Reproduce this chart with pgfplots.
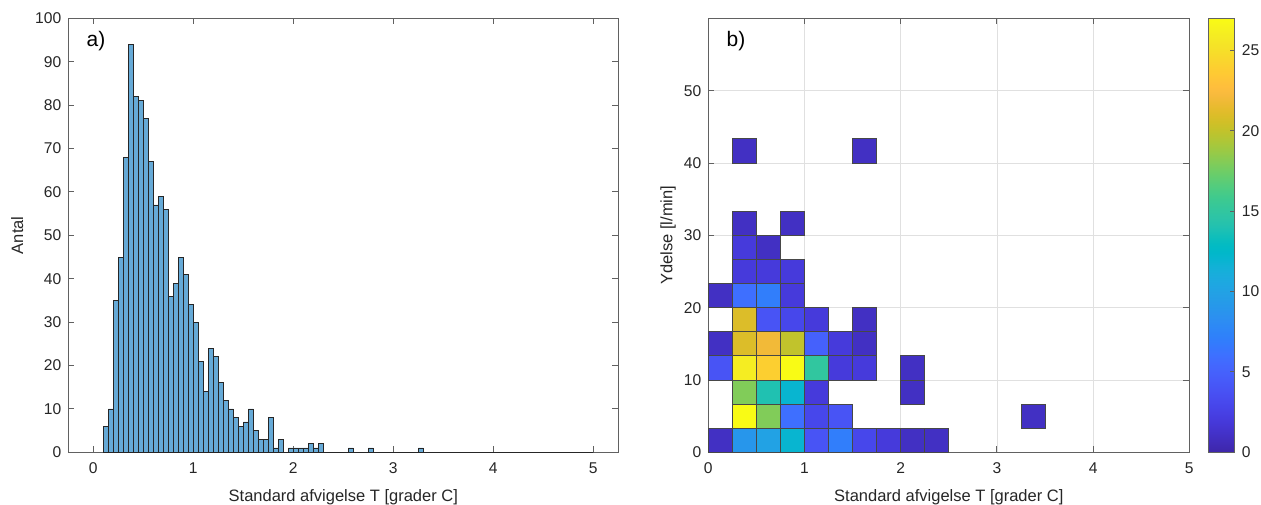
\documentclass[border=0pt]{standalone}
\usepackage{fontspec}
\setmainfont{Liberation Sans}
\usepackage{pgfplots}
\pgfplotsset{compat=1.18}
\usetikzlibrary{calc}
\definecolor{histblue}{RGB}{102,170,215}
\definecolor{axgray}{RGB}{38,38,38}
\pgfplotsset{
 mystyle/.style={
  scale only axis, anchor=south west,
  axis line style={black!62, line width=0.45pt},
  tick style={black!62, line width=0.45pt},
  tick align=inside, major tick length=3pt,
  ticklabel style={font=\fontsize{7.8}{9}\selectfont, text=axgray},
  /pgf/number format/assume math mode=true,
  label style={font=\fontsize{8.25}{10}\selectfont, text=axgray},
  xlabel style={at={(axis description cs:0.5,0)}, anchor=base, yshift=-24.8pt},
  xticklabel style={yshift=-1.5pt},
  xtick={0,1,2,3,4,5},
 },
 colormap={parula}{
  rgb(0pt)=(0.2422,0.1504,0.6603) rgb(1pt)=(0.2504,0.1650,0.7076) rgb(2pt)=(0.2578,0.1818,0.7511) rgb(3pt)=(0.2647,0.1978,0.7952)
  rgb(4pt)=(0.2706,0.2147,0.8364) rgb(5pt)=(0.2751,0.2342,0.8710) rgb(6pt)=(0.2783,0.2559,0.8991) rgb(7pt)=(0.2803,0.2782,0.9221)
  rgb(8pt)=(0.2813,0.3006,0.9414) rgb(9pt)=(0.2810,0.3228,0.9579) rgb(10pt)=(0.2795,0.3447,0.9717) rgb(11pt)=(0.2760,0.3667,0.9829)
  rgb(12pt)=(0.2699,0.3892,0.9906) rgb(13pt)=(0.2602,0.4123,0.9952) rgb(14pt)=(0.2440,0.4358,0.9988) rgb(15pt)=(0.2206,0.4603,0.9973)
  rgb(16pt)=(0.1963,0.4847,0.9892) rgb(17pt)=(0.1834,0.5074,0.9798) rgb(18pt)=(0.1786,0.5289,0.9682) rgb(19pt)=(0.1764,0.5499,0.9520)
  rgb(20pt)=(0.1687,0.5703,0.9359) rgb(21pt)=(0.1540,0.5902,0.9218) rgb(22pt)=(0.1460,0.6091,0.9079) rgb(23pt)=(0.1380,0.6276,0.8973)
  rgb(24pt)=(0.1248,0.6459,0.8883) rgb(25pt)=(0.1113,0.6635,0.8763) rgb(26pt)=(0.0952,0.6798,0.8598) rgb(27pt)=(0.0689,0.6948,0.8394)
  rgb(28pt)=(0.0297,0.7082,0.8163) rgb(29pt)=(0.0036,0.7203,0.7917) rgb(30pt)=(0.0067,0.7312,0.7660) rgb(31pt)=(0.0433,0.7411,0.7394)
  rgb(32pt)=(0.0964,0.7500,0.7120) rgb(33pt)=(0.1408,0.7584,0.6842) rgb(34pt)=(0.1717,0.7670,0.6554) rgb(35pt)=(0.1938,0.7758,0.6251)
  rgb(36pt)=(0.2161,0.7843,0.5923) rgb(37pt)=(0.2470,0.7918,0.5567) rgb(38pt)=(0.2906,0.7973,0.5188) rgb(39pt)=(0.3406,0.8008,0.4789)
  rgb(40pt)=(0.3909,0.8029,0.4354) rgb(41pt)=(0.4456,0.8024,0.3909) rgb(42pt)=(0.5044,0.7993,0.3480) rgb(43pt)=(0.5616,0.7942,0.3045)
  rgb(44pt)=(0.6174,0.7876,0.2612) rgb(45pt)=(0.6720,0.7793,0.2227) rgb(46pt)=(0.7242,0.7698,0.1910) rgb(47pt)=(0.7738,0.7598,0.1646)
  rgb(48pt)=(0.8203,0.7498,0.1535) rgb(49pt)=(0.8634,0.7406,0.1596) rgb(50pt)=(0.9035,0.7330,0.1774) rgb(51pt)=(0.9393,0.7288,0.2100)
  rgb(52pt)=(0.9728,0.7298,0.2394) rgb(53pt)=(0.9956,0.7434,0.2371) rgb(54pt)=(0.9970,0.7659,0.2199) rgb(55pt)=(0.9952,0.7893,0.2028)
  rgb(56pt)=(0.9892,0.8136,0.1885) rgb(57pt)=(0.9786,0.8386,0.1766) rgb(58pt)=(0.9676,0.8639,0.1643) rgb(59pt)=(0.9610,0.8890,0.1537)
  rgb(60pt)=(0.9597,0.9135,0.1423) rgb(61pt)=(0.9628,0.9373,0.1265) rgb(62pt)=(0.9691,0.9606,0.1064) rgb(63pt)=(0.9769,0.9839,0.0805)
 },
}
\pgfplotstableread{
x y c
0.125 1.6667 1
0.375 1.6667 9
0.625 1.6667 10
0.875 1.6667 12
1.125 1.6667 4
1.375 1.6667 7
1.625 1.6667 3
1.875 1.6667 2
2.125 1.6667 1
2.375 1.6667 1
0.375 5.0000 27
0.625 5.0000 18
0.875 5.0000 6
1.125 5.0000 3
1.375 5.0000 4
3.375 5.0000 1
0.375 8.3333 18
0.625 8.3333 14
0.875 8.3333 12
1.125 8.3333 2
2.125 8.3333 1
0.125 11.6667 4
0.375 11.6667 26
0.625 11.6667 24
0.875 11.6667 27
1.125 11.6667 15
1.375 11.6667 2
1.625 11.6667 2
2.125 11.6667 1
0.125 15.0000 1
0.375 15.0000 21
0.625 15.0000 22
0.875 15.0000 20
1.125 15.0000 5
1.375 15.0000 2
1.625 15.0000 1
0.375 18.3333 21
0.625 18.3333 4
0.875 18.3333 3
1.125 18.3333 2
1.625 18.3333 1
0.125 21.6667 1
0.375 21.6667 6
0.625 21.6667 7
0.875 21.6667 2
0.375 25.0000 2
0.625 25.0000 2
0.875 25.0000 2
0.375 28.3333 2
0.625 28.3333 1
0.375 31.6667 1
0.875 31.6667 1
0.375 41.6667 1
1.625 41.6667 1
}\heatdata
\begin{document}
\begin{tikzpicture}
\path[use as bounding box] (0,0) rectangle (630.5pt,252pt);
% ---------- a) histogram ----------
\begin{axis}[mystyle, at={(34.15pt,25.85pt)}, width=275pt, height=217pt,
  xmin=-0.25, xmax=5.25, ymin=0, ymax=100, ytick={0,10,...,100},
  xlabel={Standard afvigelse T [grader C]}, ylabel={Antal},
  ylabel style={at={(axis description cs:-0.069,0.5)}, anchor=south}]
\addplot[ybar interval, fill=histblue, draw=axgray, line width=0.4pt] coordinates {
(0.10,6) (0.15,10) (0.20,35) (0.25,45) (0.30,68) (0.35,94) (0.40,82) (0.45,81)
(0.50,77) (0.55,67) (0.60,57) (0.65,59) (0.70,56) (0.75,36) (0.80,39) (0.85,45)
(0.90,41) (0.95,34) (1.00,30) (1.05,21) (1.10,14) (1.15,24) (1.20,22) (1.25,16)
(1.30,12) (1.35,10) (1.40,8) (1.45,6) (1.50,7) (1.55,10) (1.60,5) (1.65,3)
(1.70,3) (1.75,8) (1.80,1) (1.85,3) (1.90,0) (1.95,1) (2.00,1) (2.05,1)
(2.10,1) (2.15,2) (2.20,1) (2.25,2) (2.30,0) (2.35,0) (2.40,0) (2.45,0)
(2.50,0) (2.55,1) (2.60,0) (2.65,0) (2.70,0) (2.75,1) (2.80,0) (2.85,0)
(2.90,0) (2.95,0) (3.00,0) (3.05,0) (3.10,0) (3.15,0) (3.20,0) (3.25,1)
(3.30,0) (3.35,0) (3.40,0) (3.45,0) (3.50,0) (3.55,0) (3.60,0) (3.65,0)
(3.70,0) (3.75,0) (3.80,0) (3.85,0) (3.90,0) (3.95,0) (4.00,0) (4.05,0)
(4.10,0) (4.15,0) (4.20,0) (4.25,0) (4.30,0) (4.35,0) (4.40,0) (4.45,0)
(4.50,0) (4.55,0) (4.60,0) (4.65,0) (4.70,0) (4.75,0) (4.80,0) (4.85,0)
(4.90,0) (4.95,0) (5.00,0)};
\node[anchor=north west, inner sep=0pt, font=\fontsize{10.5}{12}\selectfont, text=black] at (rel axis cs:0,1) [xshift=9pt, yshift=-6.5pt] {a)};
\end{axis}
% ---------- b) 2D histogram ----------
\begin{axis}[mystyle, at={(354.15pt,25.85pt)}, width=240.5pt, height=217pt,
  xmin=0, xmax=5, ymin=0, ymax=60, ytick={0,10,...,50},
  grid=major, grid style={black!12, line width=0.4pt},
  xlabel={Standard afvigelse T [grader C]}, ylabel={Ydelse [l/min]},
  ylabel style={at={(axis description cs:-0.053,0.5)}, anchor=south},
  colormap name=parula, point meta min=0, point meta max=27,
  colorbar,
  colorbar style={
    at={($(parent axis.north east)+(0.85pt,0pt)$)}, anchor=north west,
    scale only axis, width=13.35pt, height=217pt,
    ytick={0,5,...,25}, yticklabel pos=right, ytick pos=right,
    tick align=inside, major tick length=2.5pt,
    axis line style={black!62, line width=0.45pt},
    tick style={black!62, line width=0.45pt},
    yticklabel style={font=\fontsize{7.8}{9}\selectfont, text=axgray},
    /pgf/number format/assume math mode=true,
  }]
\addplot[scatter, only marks, mark=square*, mark size=6.02pt,
  scatter/use mapped color={draw=black!72, fill=mapped color, line width=0.4pt},
  point meta=explicit] table[x=x, y=y, meta=c] {\heatdata};
\node[anchor=north west, inner sep=0pt, font=\fontsize{10.5}{12}\selectfont, text=black] at (rel axis cs:0,1) [xshift=9pt, yshift=-6.5pt] {b)};
\end{axis}
\end{tikzpicture}
\end{document}
